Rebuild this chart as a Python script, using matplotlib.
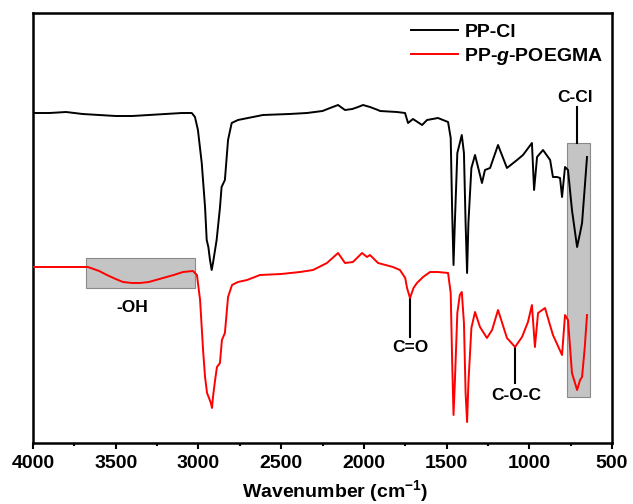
import matplotlib
matplotlib.use('Agg')
import matplotlib.pyplot as plt
from matplotlib.patches import Rectangle
from matplotlib.ticker import MultipleLocator

plt.rcParams['font.family'] = ['Liberation Sans', 'DejaVu Sans']
plt.rcParams['font.weight'] = 'bold'
plt.rcParams['mathtext.fontset'] = 'custom'
plt.rcParams['mathtext.rm'] = 'Liberation Sans:bold'
plt.rcParams['mathtext.it'] = 'Liberation Sans:italic:bold'
plt.rcParams['mathtext.bf'] = 'Liberation Sans:bold'

# spectra (transmittance in arbitrary units)
pp_cl_wn = [4000, 3900, 3800, 3700, 3600, 3500, 3400, 3300, 3200, 3100, 3040, 3021, 3003,
            2980, 2960, 2950, 2940, 2930, 2920, 2912, 2890, 2870, 2860, 2840, 2821, 2799,
            2761, 2610, 2450, 2344, 2250, 2204, 2156, 2114, 2070, 2035, 2005, 1963, 1915,
            1902, 1800, 1751, 1733, 1703, 1648, 1618, 1552, 1491, 1475, 1466, 1458, 1450,
            1435, 1408, 1395, 1385, 1376, 1368, 1350, 1328, 1286, 1268, 1237, 1189, 1135,
            1074, 1038, 984, 971, 953, 917, 874, 857, 832, 814, 802, 784, 766, 742, 711,
            693, 681, 665, 651]
pp_cl_t = [330, 330, 331, 329, 328, 327, 327, 328, 329, 330, 330, 326, 313,
           280, 236, 203, 196, 183, 173, 180, 203, 235, 256, 263, 303, 320,
           323, 328, 329, 330, 332, 335, 338, 333, 334, 336, 338, 336, 333,
           332, 331, 330, 320, 324, 318, 323, 325, 321, 305, 230, 178, 220,
           290, 308, 290, 220, 170, 220, 275, 288, 260, 273, 275, 298, 275,
           283, 288, 300, 253, 286, 293, 283, 266, 266, 265, 246, 276, 273, 233, 196,
           210, 220, 255, 286]

poegma_wn = [4000, 3900, 3800, 3668, 3600, 3553, 3500, 3456, 3400, 3353, 3300, 3214, 3150,
             3093, 3033, 3009, 2990, 2972, 2960, 2948, 2936, 2925, 2918, 2912, 2900, 2888,
             2870, 2858, 2840, 2821, 2797, 2761, 2706, 2628, 2500, 2386, 2307, 2223, 2156,
             2114, 2066, 2011, 1981, 1963, 1914, 1824, 1782, 1750, 1739, 1721, 1700, 1679,
             1642, 1600, 1552, 1491, 1475, 1466, 1458, 1450, 1435, 1420, 1408, 1395, 1385,
             1376, 1368, 1350, 1328, 1298, 1256, 1225, 1189, 1135, 1086, 1044, 1008, 984,
             966, 947, 905, 857, 802, 784, 766, 742, 711, 693, 681, 665, 651]
poegma_t = [176, 176, 176, 176, 172, 168, 164, 161, 160, 160, 161, 165, 168,
            171, 172, 168, 143, 93, 66, 50, 45, 40, 35, 46, 62, 76,
            80, 103, 110, 146, 158, 161, 163, 168, 169, 171, 173, 180, 190,
            180, 181, 190, 186, 188, 180, 176, 173, 165, 155, 145, 155, 160,
            166, 171, 171, 170, 150, 80, 28, 60, 130, 148, 151, 120, 50,
            21, 60, 115, 131, 116, 105, 113, 133, 105, 96, 106, 121, 138,
            96, 130, 135, 108, 88, 128, 123, 70, 53, 63, 66, 95, 128]

# band labels: text, wavenumber, line start, line end, text y
bands = ['C=O', 'C-O-C', 'C-Cl']
band_wn = [1721, 1086, 711]
band_y0 = [145, 96, 300]
band_y1 = [106, 60, 336]
band_ty = [96, 47, 346]

fig = plt.figure(figsize=(6.33, 5.04), dpi=100)
ax = fig.add_axes([33/633, 61/504, 579/633, 430/504])

# shaded regions
ax.add_patch(Rectangle((3020, 155), 660, 30, facecolor='#c4c4c4', edgecolor='#8a8a8a', lw=0.8, zorder=1))
ax.add_patch(Rectangle((633, 46), 139, 254, facecolor='#c4c4c4', edgecolor='#8a8a8a', lw=0.8, zorder=1))

ax.plot(pp_cl_wn, pp_cl_t, color='black', lw=1.4, label='PP-Cl', zorder=3)
ax.plot(poegma_wn, poegma_t, color='#ff0000', lw=1.4, label='PP-$\\it{g}$-POEGMA', zorder=3)

for lab, w, y0, y1, ty in zip(bands, band_wn, band_y0, band_y1, band_ty):
    ax.plot([w, w], [y0, y1], color='black', lw=1.5, zorder=2)
    ax.text(w + (10 if lab == 'C-Cl' else -5), ty, lab, ha='center', va='center', fontsize=12.5, fontweight='bold')
ax.text(3403, 136, '-OH', ha='center', va='center', fontsize=12.5, fontweight='bold')

ax.set_xlim(4000, 500)
ax.set_ylim(0, 430)
ax.xaxis.set_major_locator(MultipleLocator(500))
ax.xaxis.set_minor_locator(MultipleLocator(250))
ax.tick_params(axis='x', which='major', direction='out', length=4, width=1.5, labelsize=14, pad=5)
ax.tick_params(axis='x', which='minor', direction='out', length=2.5, width=1.5)
ax.set_yticks([])
for lbl in ax.get_xticklabels():
    lbl.set_fontweight('bold')
for s in ax.spines.values():
    s.set_linewidth(1.8)
ax.set_xlabel('Wavenumber (cm$^{-1}$)', fontsize=14, fontweight='bold')
ax.xaxis.set_label_coords(0.522, -0.082)

ax.legend(loc='upper right', bbox_to_anchor=(1.012, 1.012), frameon=False,
          handlelength=2.4, handletextpad=0.35, labelspacing=0.25, borderpad=0.3,
          prop={'weight': 'bold', 'size': 14})

fig.savefig('out.png', dpi=100)
